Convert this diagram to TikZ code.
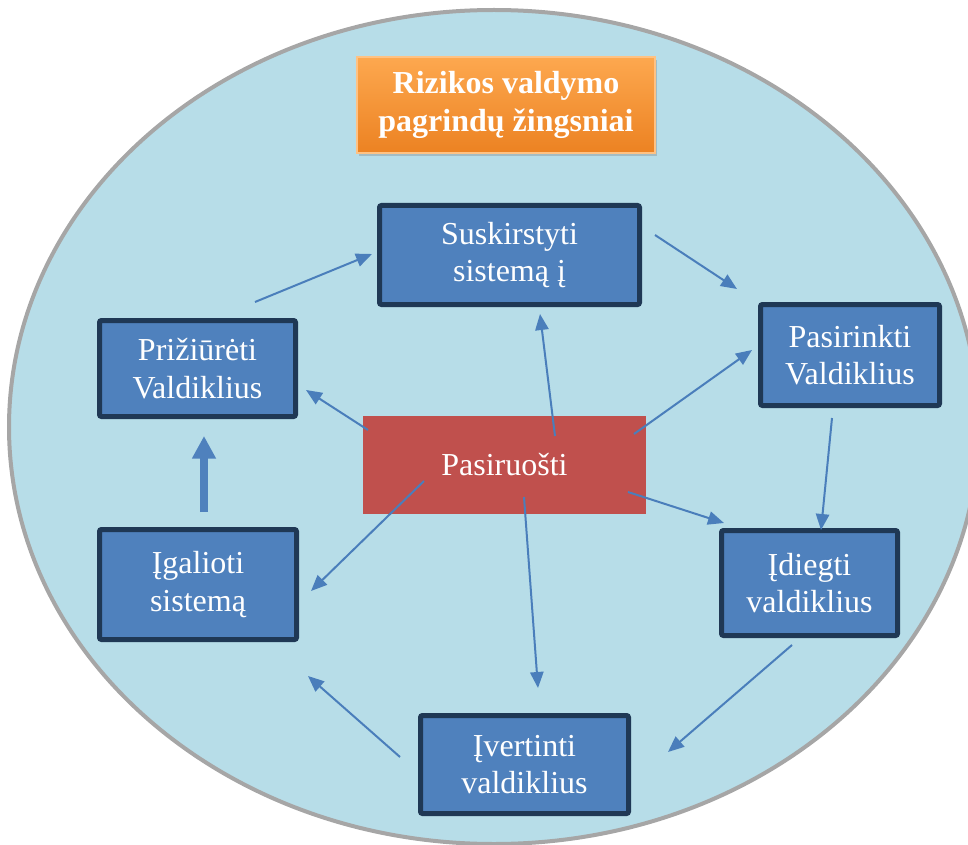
\documentclass[tikz,border=0pt]{standalone}
\usepackage{fontspec}
\setmainfont{Liberation Serif}
\usepackage{xcolor}
\usepackage{tikz}
\usetikzlibrary{shapes,arrows.meta,positioning,shadows}
\definecolor{oval}{HTML}{B7DDE8}
\definecolor{ovalrim}{HTML}{A6A6A6}
\definecolor{stepblue}{HTML}{4F81BD}
\definecolor{steprim}{HTML}{1F3855}
\definecolor{prepred}{HTML}{C0504D}
\definecolor{titletop}{HTML}{FDA84F}
\definecolor{titlebot}{HTML}{EC8222}
\definecolor{flowblue}{HTML}{4A7EBB}

\begin{document}
\begin{tikzpicture}[
    x=0.75pt, y=-0.75pt,
    every node/.style={font=\fontsize{24}{28}\selectfont, align=center, text=white},
    stepbox/.style={rectangle, draw=steprim, line width=3.75pt, fill=stepblue, rounded corners=1.5pt,
        drop shadow={opacity=0.25, shadow xshift=1pt, shadow yshift=-1.5pt}},
    prepbox/.style={rectangle, fill=prepred, outer sep=0pt, minimum width=212.25pt, minimum height=73.5pt},
    titlebox/.style={rectangle, top color=titletop, bottom color=titlebot, draw=titletop!70!white, line width=0.8pt,
        minimum width=223.5pt, minimum height=72pt, font=\bfseries\fontsize{24}{28.5}\selectfont,
        drop shadow={opacity=0.35, shadow xshift=1.5pt, shadow yshift=-2pt}},
    flow/.style={draw=flowblue, line width=1.5pt, -{Triangle[length=12pt,width=10pt]}},
    bigflow/.style={draw=stepblue, line width=6pt, -{Triangle[length=17pt,width=17pt]}}
]

\useasboundingbox (0,0) rectangle (968,845);
\clip (0,0) rectangle (968,845);
\draw[fill=oval, draw=ovalrim, line width=3pt] (494,427) ellipse [x radius=485, y radius=417];

\node[titlebox] (title) at (506,105) {Rizikos valdymo\\pagrindų žingsniai};

\node[stepbox, minimum width=195pt, minimum height=74.25pt] (split) at (509.5,255) {Suskirstyti\\sistemą į};
\node[stepbox, minimum width=147pt, minimum height=72pt] (care) at (197.5,368.5) {Prižiūrėti\\Valdiklius};
\node[stepbox, minimum width=134.25pt, minimum height=75.75pt] (choose) at (850,355) {Pasirinkti\\Valdiklius};
\node[prepbox] (prep) at (504.5,465) {Pasiruošti};
\node[stepbox, minimum width=147.75pt, minimum height=82.5pt] (authorize) at (198,584.5) {Įgalioti\\sistemą};
\node[stepbox, minimum width=132pt, minimum height=78.75pt] (install) at (809.5,583) {Įdiegti\\valdiklius};
\node[stepbox, minimum width=156pt, minimum height=73.5pt] (assess) at (524.5,764.5) {Įvertinti\\valdiklius};

\draw[flow] ([shift={(57.5,-16)}]care.north) -- ([shift={(-5,-1)}]split.west);
\draw[flow] ([shift={(13,-20)}]split.east) -- ([shift={(-21,-13)}]choose.north west);
\draw[flow] ([shift={(-18,10)}]choose.south) -- ([shift={(11.5,2)}]install.north);
\draw[flow] ([shift={(-17.5,7)}]install.south) -- ([shift={(37,-12.5)}]assess.east);
\draw[flow] ([shift={(-18,-7.5)}]assess.west) -- ([shift={(9,34)}]authorize.south east);
\draw[bigflow] ([shift={(6,-15)}]authorize.north) -- ([shift={(6.5,17)}]care.south);

\draw[flow] ([shift={(50.5,20)}]prep.north) -- ([shift={(30.5,7)}]split.south);
\draw[flow] ([shift={(5,14)}]prep.north west) -- ([shift={(8,21.5)}]care.east);
\draw[flow] ([shift={(-12,18)}]prep.north east) -- ([shift={(-6,-5)}]choose.west);
\draw[flow] ([shift={(-18,27)}]prep.east) -- ([shift={(5,-5)}]install.north west);
\draw[flow] ([shift={(19.5,-17)}]prep.south) -- ([shift={(13.5,-25)}]assess.north);
\draw[flow] ([shift={(61,-33)}]prep.south west) -- ([shift={(12,6.5)}]authorize.east);

\end{tikzpicture}
\end{document}
